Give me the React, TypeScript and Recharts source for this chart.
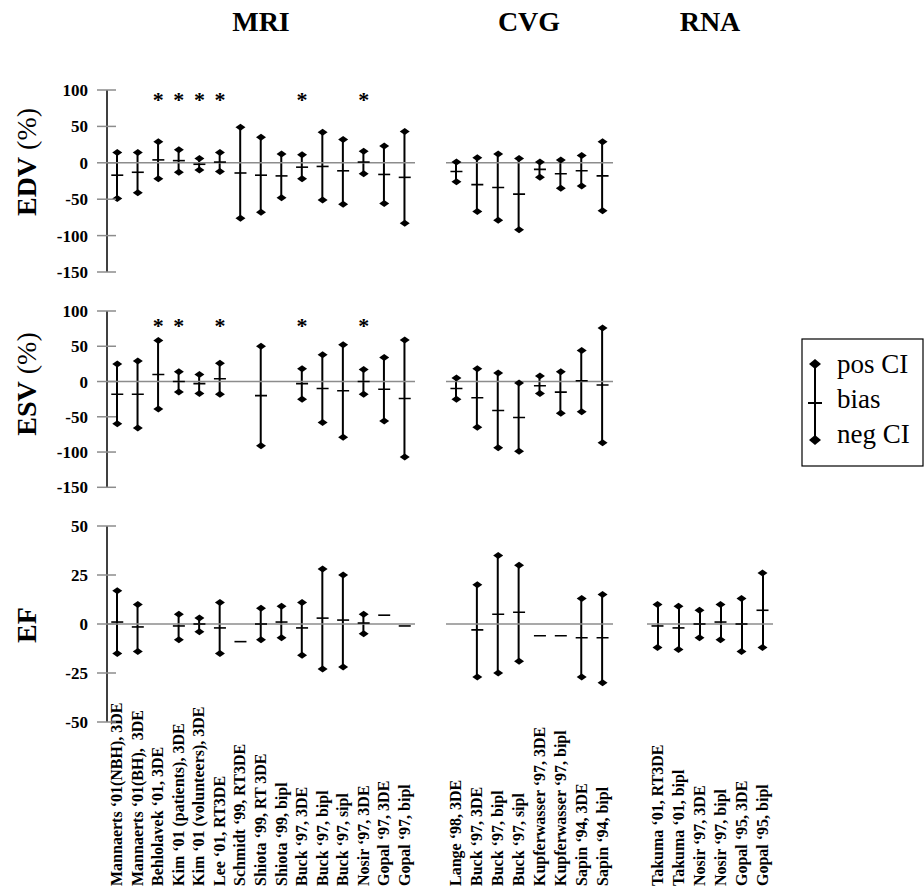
import React from "react";
import { ComposedChart, Bar, Line, XAxis, YAxis, ReferenceLine } from "recharts";

const FONT = "'Liberation Serif', 'Times New Roman', Times, serif";

// ---------- categories ----------
const mriLabels = [
  "Mannaerts ‘01(NBH), 3DE",
  "Mannaerts ‘01(BH),  3DE",
  "Behlolavek ‘01, 3DE",
  "Kim ‘01 (patients), 3DE",
  "Kim ‘01 (volunteers), 3DE",
  "Lee ‘01, RT3DE",
  "Schmidt ‘99, RT3DE",
  "Shiota ‘99, RT 3DE",
  "Shiota ‘99, bipl",
  "Buck ‘97, 3DE",
  "Buck ‘97, bipl",
  "Buck ‘97, sipl",
  "Nosir ‘97, 3DE",
  "Gopal ‘97, 3DE",
  "Gopal ‘97, bipl",
];
const cvgLabels = [
  "Lange ‘98, 3DE",
  "Buck ‘97, 3DE",
  "Buck ‘97, bipl",
  "Buck ‘97, sipl",
  "Kupferwasser ‘97, 3DE",
  "Kupferwasser ‘97, bipl",
  "Sapin ‘94, 3DE",
  "Sapin ‘94, bipl",
];
const rnaLabels = [
  "Takuma ‘01, RT3DE",
  "Takuma ‘01, bipl",
  "Nosir ‘97, 3DE",
  "Nosir ‘97, bipl",
  "Gopal ‘95, 3DE",
  "Gopal ‘95, bipl",
];

// ---------- EDV (%) ----------
const mriEdvUpper = [14, 14, 29, 18, 6, 14, 49, 35, 12, 11, 42, 32, 16, 23, 43];
const mriEdvBias = [-17, -13, 4, 3, -2, 1, -14, -17, -18, -6, -5, -11, 1, -16, -20];
const mriEdvLower = [-49, -41, -22, -13, -10, -12, -76, -68, -48, -22, -51, -57, -15, -56, -83];
const mriEdvStar = [null, null, 92, 92, 92, 92, null, null, null, 92, null, null, 92, null, null];

const cvgEdvUpper = [1, 7, 12, 6, 1, 4, 10, 29];
const cvgEdvBias = [-12, -30, -34, -43, -9, -15, -11, -18];
const cvgEdvLower = [-26, -67, -79, -92, -20, -35, -32, -66];

// ---------- ESV (%) ----------
const mriEsvUpper = [25, 29, 58, 14, 10, 26, null, 50, null, 18, 38, 52, 17, 34, 59];
const mriEsvBias = [-18, -18, 10, 0, -3, 4, null, -20, null, -3, -10, -13, 0, -11, -24];
const mriEsvLower = [-60, -66, -39, -15, -17, -18, null, -91, null, -25, -58, -79, -18, -56, -107];
const mriEsvStar = [null, null, 85, 85, null, 85, null, null, null, 85, null, null, 85, null, null];

const cvgEsvUpper = [5, 18, 12, -2, 8, 14, 44, 76];
const cvgEsvBias = [-10, -23, -41, -51, -6, -15, 1, -5];
const cvgEsvLower = [-25, -65, -94, -99, -17, -45, -43, -87];

// ---------- EF ----------
const mriEfUpper = [17, 10, null, 5, 3, 11, null, 8, 9, 11, 28, 25, 5, null, null];
const mriEfBias = [1, -1.5, null, -1, 0, -2, -9, 0, 1, -2, 3, 2, 0.5, 4.5, -1];
const mriEfLower = [-15, -14, null, -8, -4, -15, null, -8, -7, -16, -23, -22, -5, null, null];

const cvgEfUpper = [null, 20, 35, 30, null, null, 13, 15];
const cvgEfBias = [null, -3, 5, 6, -6, -6, -7, -7];
const cvgEfLower = [null, -27, -25, -19, null, null, -27, -30];

const rnaEfUpper = [10, 9, 7, 10, 13, 26];
const rnaEfBias = [-1, -2, 0, 1, 0, 7];
const rnaEfLower = [-12, -13, -7, -8, -14, -12];

// ---------- tick labels ----------
const volTicks = [100, 50, 0, -50, -100, -150];
const efTicks = [50, 25, 0, -25, -50];

const groupTitles = ["MRI", "CVG", "RNA"];
const rowTitles = ["EDV", "ESV", "EF"];
const legendLabels = ["pos CI", "bias", "neg CI"];

// ---------- build tables ----------
function build(labels: string[], up: any[], bias: any[], low: any[], star?: any[]) {
  return labels.map((label, i) => ({
    label,
    upper: up[i],
    bias: bias[i],
    lower: low[i],
    star: star ? star[i] : null,
  }));
}

// layout
const GROUPS = {
  MRI: { left: 107, right: 415 },
  CVG: { left: 446, right: 613 },
  RNA: { left: 647, right: 773 },
};
const ROWS = {
  EDV: { top: 89.5, bottom: 271.5, domain: [-150, 100], ticks: volTicks },
  ESV: { top: 311, bottom: 487.3, domain: [-150, 100], ticks: volTicks },
  EF: { top: 526, bottom: 722, domain: [-50, 50], ticks: efTicks },
};

const Diamond = (props: any) => {
  const { cx, cy, value, index } = props;
  if (value == null || cy == null || !isFinite(cy)) return <g key={"d" + index} />;
  return (
    <polygon
      key={"d" + index}
      points={`${cx - 5},${cy} ${cx},${cy - 3.5} ${cx + 5},${cy} ${cx},${cy + 3.5}`}
      fill="#000"
    />
  );
};

const BiasDash = (props: any) => {
  const { cx, cy, value, index } = props;
  if (value == null || cy == null || !isFinite(cy)) return <g key={"b" + index} />;
  return <line key={"b" + index} x1={cx - 6} x2={cx + 6} y1={cy} y2={cy} stroke="#000" strokeWidth={1.6} />;
};

const Star = (props: any) => {
  const { cx, cy, value, index } = props;
  if (value == null || cy == null || !isFinite(cy)) return <g key={"s" + index} />;
  return (
    <text
      key={"s" + index}
      x={cx}
      y={cy + 11}
      textAnchor="middle"
      style={{ fontFamily: FONT, fontSize: 22, fontWeight: "bold" }}
      fill="#000"
    >
      *
    </text>
  );
};

const Whisker = (p: any) => {
  const { x, y, width, height } = p;
  if (x == null || y == null || height == null || !isFinite(height)) return <g />;
  const cx = x + width / 2;
  const top = Math.min(y, y + height);
  const bot = Math.max(y, y + height);
  return <line x1={cx} x2={cx} y1={top} y2={bot} stroke="#000" strokeWidth={2} />;
};

const YTick = (p: any) => {
  const { x, y, payload } = p;
  return (
    <g>
      <line x1={x - 10} x2={x + 9} y1={y} y2={y} stroke="#8c8c8c" strokeWidth={1.5} />
      <text
        x={x - 19}
        y={y + 6}
        textAnchor="end"
        style={{ fontFamily: FONT, fontSize: 17, fontWeight: "bold" }}
        fill="#000"
      >
        {payload.value}
      </text>
    </g>
  );
};

const XTick = (p: any) => {
  const { x, y, payload } = p;
  return (
    <text
      transform={`translate(${x + 5},${y + 164}) rotate(-90)`}
      textAnchor="start"
      style={{ fontFamily: FONT, fontSize: 16, fontWeight: "bold", whiteSpace: "pre" }}
      fill="#000"
    >
      {payload.value}
    </text>
  );
};

function Panel({ data, group, row, yAxis, xLabels }: any) {
  const g = (GROUPS as any)[group];
  const r = (ROWS as any)[row];
  const mTop = 10;
  const xH = xLabels ? 170 : 0;
  const mBottom = xLabels ? 0 : 10;
  const yW = yAxis ? g.left : 0;
  const left = yAxis ? 0 : g.left;
  const width = g.right - g.left + yW;
  const height = r.bottom - r.top + mTop + mBottom + xH;
  return (
    <div style={{ position: "absolute", left, top: r.top - mTop, width, height }}>
      <ComposedChart
        width={width}
        height={height}
        data={data}
        margin={{ top: mTop, right: 0, bottom: mBottom, left: 0 }}
      >
        <XAxis
          dataKey="label"
          type="category"
          hide={!xLabels}
          height={xH}
          interval={0}
          tickLine={false}
          axisLine={false}
          tickSize={0}
          tickMargin={0}
          tick={<XTick />}
        />
        <YAxis
          type="number"
          domain={r.domain}
          ticks={r.ticks}
          hide={!yAxis}
          width={yW}
          allowDataOverflow
          axisLine={{ stroke: "#000", strokeWidth: 1.5 }}
          tickLine={false}
          tickSize={0}
          tickMargin={0}
          tick={<YTick />}
          interval={0}
        />
        <ReferenceLine y={0} stroke="#8c8c8c" strokeWidth={1.5} />
        <Bar
          dataKey={(d: any) => (d.upper == null ? null : [d.lower, d.upper])}
          shape={<Whisker />}
          barSize={4}
          isAnimationActive={false}
        />
        <Line dataKey="upper" stroke="none" dot={Diamond} activeDot={false} isAnimationActive={false} />
        <Line dataKey="lower" stroke="none" dot={Diamond} activeDot={false} isAnimationActive={false} />
        <Line dataKey="bias" stroke="none" dot={BiasDash} activeDot={false} isAnimationActive={false} />
        <Line dataKey="star" stroke="none" dot={Star} activeDot={false} isAnimationActive={false} />
      </ComposedChart>
    </div>
  );
}

const mriEdv = build(mriLabels, mriEdvUpper, mriEdvBias, mriEdvLower, mriEdvStar);
const cvgEdv = build(cvgLabels, cvgEdvUpper, cvgEdvBias, cvgEdvLower);
const mriEsv = build(mriLabels, mriEsvUpper, mriEsvBias, mriEsvLower, mriEsvStar);
const cvgEsv = build(cvgLabels, cvgEsvUpper, cvgEsvBias, cvgEsvLower);
const mriEf = build(mriLabels, mriEfUpper, mriEfBias, mriEfLower);
const cvgEf = build(cvgLabels, cvgEfUpper, cvgEfBias, cvgEfLower);
const rnaEf = build(rnaLabels, rnaEfUpper, rnaEfBias, rnaEfLower);

function Overlay() {
  const titleX = [261, 529, 710];
  const rowY = [162, 384, 625];
  const diamond = (cx: number, cy: number) =>
    `${cx - 6},${cy} ${cx},${cy - 5} ${cx + 6},${cy} ${cx},${cy + 5}`;
  return (
    <svg
      width={924}
      height={892}
      style={{ position: "absolute", left: 0, top: 0, pointerEvents: "none", fontFamily: FONT }}
    >
      {groupTitles.map((t, i) => (
        <text key={t} x={titleX[i]} y={31} textAnchor="middle" fontSize={28} fontWeight="bold" fill="#000">
          {t}
        </text>
      ))}
      {rowTitles.map((t, i) => (
        <text
          key={t}
          transform={`translate(36,${rowY[i]}) rotate(-90)`}
          textAnchor="middle"
          fontSize={28}
          fill="#000"
        >
          <tspan fontWeight="bold">{t}</tspan>
          {i < 2 ? <tspan> (%)</tspan> : null}
        </text>
      ))}
      <g>
        <rect x={802} y={339} width={121} height={127} fill="#fff" stroke="#000" strokeWidth={1.2} />
        <line x1={815} x2={815} y1={364} y2={440} stroke="#000" strokeWidth={2} />
        <polygon points={diamond(815, 364)} fill="#000" />
        <polygon points={diamond(815, 440)} fill="#000" />
        <line x1={808} x2={822} y1={403} y2={403} stroke="#000" strokeWidth={2} />
        {legendLabels.map((t, i) => (
          <text key={t} x={837} y={373 + i * 35} fontSize={27} fill="#000">
            {t}
          </text>
        ))}
      </g>
    </svg>
  );
}

export default function App() {
  return (
    <div style={{ position: "absolute", left: 0, top: 0, width: 924, height: 892, background: "#fff", overflow: "hidden" }}>
      <Panel data={mriEdv} group="MRI" row="EDV" yAxis />
      <Panel data={cvgEdv} group="CVG" row="EDV" />
      <Panel data={mriEsv} group="MRI" row="ESV" yAxis />
      <Panel data={cvgEsv} group="CVG" row="ESV" />
      <Panel data={mriEf} group="MRI" row="EF" yAxis xLabels />
      <Panel data={cvgEf} group="CVG" row="EF" xLabels />
      <Panel data={rnaEf} group="RNA" row="EF" xLabels />
      <Overlay />
    </div>
  );
}
